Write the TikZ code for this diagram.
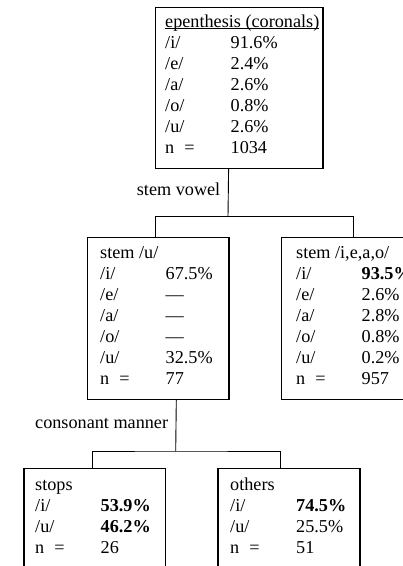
\documentclass[tikz,border=0pt]{standalone}
\usepackage{fontspec}
\setmainfont{Liberation Serif}
\usepackage{array}
\newcommand\myul[1]{\setbox0\hbox{#1}\rlap{\rule[-1.7pt]{\wd0}{0.6pt}}\box0}
\newcommand\nrow{n\hspace{0.55em}=}
\newenvironment{vtab}{\begin{tabular}[t]{@{}p{65.5pt}@{}l@{}}}{\end{tabular}}
\begin{document}
\begin{tikzpicture}[x=1pt,y=-1pt,
  box/.style={draw, line width=1.2pt, inner sep=0, anchor=north west},
  txt/.style={inner sep=0, anchor=base west, font=\fontsize{18.2}{21}\selectfont},
  lab/.style={inner sep=0, font=\fontsize{18.2}{21}\selectfont},
  conn/.style={line width=0.9pt}]
\useasboundingbox (0,0) rectangle (403,566);
\clip (0,0) rectangle (403,566);

% boxes
\node[box, minimum width=167.6pt, minimum height=161pt] (top) at (154.7,7) {};
\node[box, minimum width=141.6pt, minimum height=162.3pt] (mid) at (86.7,236.7) {};
\node[box, minimum width=141.6pt, minimum height=162.3pt] (rgt) at (280.5,236.7) {};
\node[box, minimum width=141.7pt, minimum height=130pt] (stp) at (23.3,467.7) {};
\node[box, minimum width=142pt, minimum height=130pt] (oth) at (217.3,467.7) {};

% texts
\node[txt] (toptxt) at (165,27) {\begin{vtab}
\multicolumn{2}{@{}l@{}}{\myul{epenthesis (coronals)}}\\
/i/ & 91.6\%\\
/e/ & 2.4\%\\
/a/ & 2.6\%\\
/o/ & 0.8\%\\
/u/ & 2.6\%\\
\nrow & 1034
\end{vtab}};

\node[txt] (midtxt) at (100,258.3) {\begin{vtab}
\multicolumn{2}{@{}l@{}}{stem /u/}\\
/i/ & 67.5\%\\
/e/ & ---\\
/a/ & ---\\
/o/ & ---\\
/u/ & 32.5\%\\
\nrow & 77
\end{vtab}};

\node[txt] (rgttxt) at (296,258.3) {\begin{vtab}
\multicolumn{2}{@{}l@{}}{stem /i,e,a,o/}\\
/i/ & \textbf{93.5\%}\\
/e/ & 2.6\%\\
/a/ & 2.8\%\\
/o/ & 0.8\%\\
/u/ & 0.2\%\\
\nrow & 957
\end{vtab}};

\node[txt] (stptxt) at (35,490) {\begin{vtab}
\multicolumn{2}{@{}l@{}}{stops}\\
/i/ & \textbf{53.9\%}\\
/u/ & \textbf{46.2\%}\\
\nrow & 26
\end{vtab}};

\node[txt] (othtxt) at (230,490) {\begin{tabular}[t]{@{}p{66pt}@{}l@{}}
\multicolumn{2}{@{}l@{}}{others}\\
/i/ & \textbf{74.5\%}\\
/u/ & 25.5\%\\
\nrow & 51
\end{tabular}};

% connector labels
\node[lab, anchor=base east] (sv) at (220.5,195) {stem vowel};
\node[lab, anchor=base west] (cm) at (35,428.3) {consonant manner};

% connectors
\coordinate (j1) at (228,216.7);
\coordinate (j2) at (175.7,451);
\draw[conn] ([xshift=-10.5pt]top.south) -- (j1);
\draw[conn] ([xshift=-2.5pt]mid.north) |- (j1) -| ([xshift=2pt]rgt.north);
\draw[conn] ([xshift=18.2pt]mid.south) -- (j2);
\draw[conn] ([xshift=-2.5pt]stp.north) |- (j2) -| ([xshift=-8pt]oth.north);
\end{tikzpicture}
\end{document}
